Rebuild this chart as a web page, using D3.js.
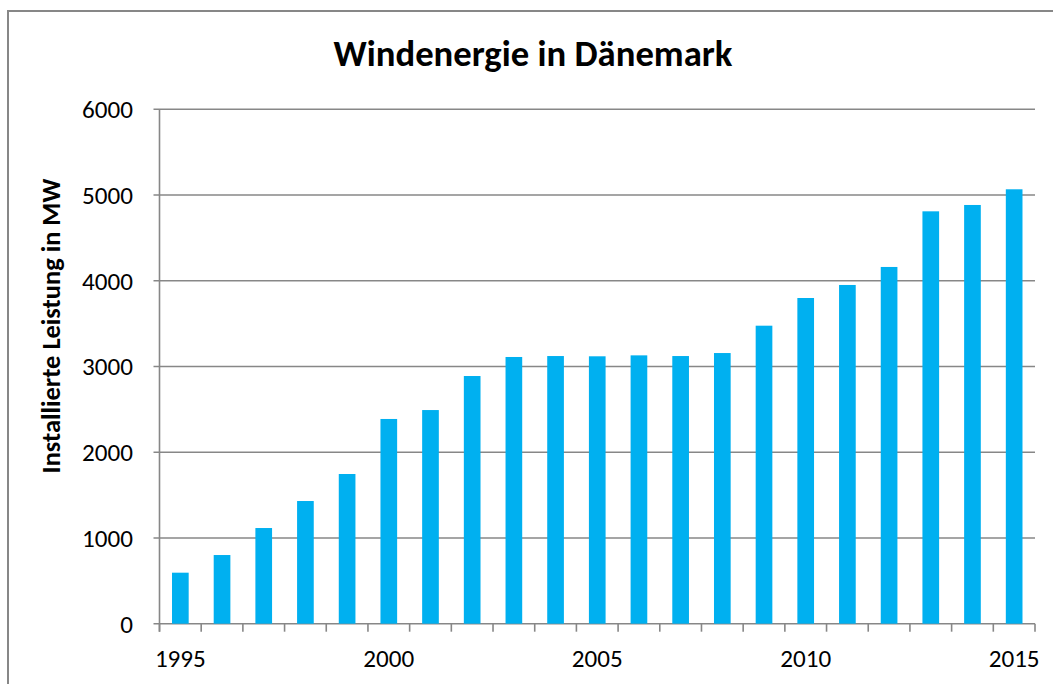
<!DOCTYPE html>
<html>
<head>
<meta charset="utf-8">
<script src="https://cdn.jsdelivr.net/npm/d3@7"></script>
<style>
  body { margin: 0; background: #fff; }
  text { font-family: Carlito, Calibri, Lato, "Open Sans", sans-serif; fill: #000; }
</style>
</head>
<body>
<svg id="chart" width="1053" height="684"></svg>
<script>
// data (MW installed per year)
const years = d3.range(1995, 2016);
const capacity = [595, 801, 1116, 1431, 1746, 2388, 2492, 2889, 3111, 3122,
                  3119, 3130, 3122, 3157, 3476, 3799, 3951, 4161, 4810, 4884, 5067];
const yTicks = [0, 1000, 2000, 3000, 4000, 5000, 6000];
const xLabels = [1995, 2000, 2005, 2010, 2015];

const svg = d3.select("#chart");
const gridColor = "#878787";

// scale a text's font so its width comes out near the target (fonts differ from the original)
function fitFont(sel, base, target) {
  sel.style("font-size", base + "px");
  let w = sel.node().getComputedTextLength();
  let size = w > 0 ? base * target / w : base;
  return size;
}

// outer frame (runs off the bottom/right of the picture)
svg.append("rect")
   .attr("x", 8).attr("y", 11)
   .attr("width", 1100).attr("height", 740)
   .attr("fill", "none")
   .attr("stroke", gridColor)
   .attr("stroke-width", 2);

const plotLeft = 159.5, plotRight = 1035, plotTop = 109.3, plotBottom = 623.7;

let x = d3.scaleBand()
          .domain(years)
          .range([plotLeft, plotRight])
          .paddingInner(0.6)
          .paddingOuter(0.3);
let y = d3.scaleLinear()
          .domain([0, 6000])
          .range([plotBottom, plotTop]);

// horizontal grid lines + y ticks
svg.append("g").selectAll("line.grid")
   .data(yTicks)
   .join("line")
   .attr("class", "grid")
   .attr("x1", plotLeft - 6)
   .attr("x2", plotRight)
   .attr("y1", d => y(d))
   .attr("y2", d => y(d))
   .attr("stroke", gridColor)
   .attr("stroke-width", 1.6);

let ylabs = svg.append("g").selectAll("text.ylab")
   .data(yTicks)
   .join("text")
   .attr("class", "ylab")
   .attr("x", 133)
   .attr("y", d => y(d))
   .attr("dy", "0.35em")
   .attr("text-anchor", "end")
   .text(d => d);
let tickSize = fitFont(ylabs.filter(d => d === 6000), 23, 51);
ylabs.style("font-size", tickSize + "px");

// bars
svg.append("g").selectAll("rect.bar")
   .data(capacity)
   .join("rect")
   .attr("class", "bar")
   .attr("x", (d, i) => x(years[i]))
   .attr("width", x.bandwidth())
   .attr("y", d => y(d))
   .attr("height", d => y(0) - y(d))
   .attr("fill", "#00b0f0");

// y axis line
svg.append("line")
   .attr("x1", plotLeft).attr("x2", plotLeft)
   .attr("y1", plotTop).attr("y2", plotBottom + 8)
   .attr("stroke", gridColor)
   .attr("stroke-width", 1.6);

// x ticks between categories
let bounds = years.map(yr => x(yr) - x.step() * x.paddingOuter());
bounds.push(plotRight);
svg.append("g").selectAll("line.xtick")
   .data(bounds)
   .join("line")
   .attr("class", "xtick")
   .attr("x1", d => d).attr("x2", d => d)
   .attr("y1", plotBottom).attr("y2", plotBottom + 8)
   .attr("stroke", gridColor)
   .attr("stroke-width", 1.6);

svg.append("g").selectAll("text.xlab")
   .data(xLabels)
   .join("text")
   .attr("class", "xlab")
   .attr("x", d => x(d) + x.bandwidth() / 2)
   .attr("y", 658)
   .attr("dy", "0.35em")
   .attr("text-anchor", "middle")
   .style("font-size", tickSize + "px")
   .text(d => d);

// title
let title = svg.append("text")
   .attr("x", 533)
   .attr("y", 66)
   .attr("text-anchor", "middle")
   .style("font-weight", "bold")
   .text("Windenergie in Dänemark");
title.style("font-size", fitFont(title, 30, 399) + "px");

// y axis title
let ytitle = svg.append("text")
   .attr("transform", "translate(60,326) rotate(-90)")
   .attr("text-anchor", "middle")
   .style("font-weight", "bold")
   .text("Installierte Leistung in MW");
ytitle.style("font-size", fitFont(ytitle, 20, 295) + "px");
</script>
</body>
</html>
